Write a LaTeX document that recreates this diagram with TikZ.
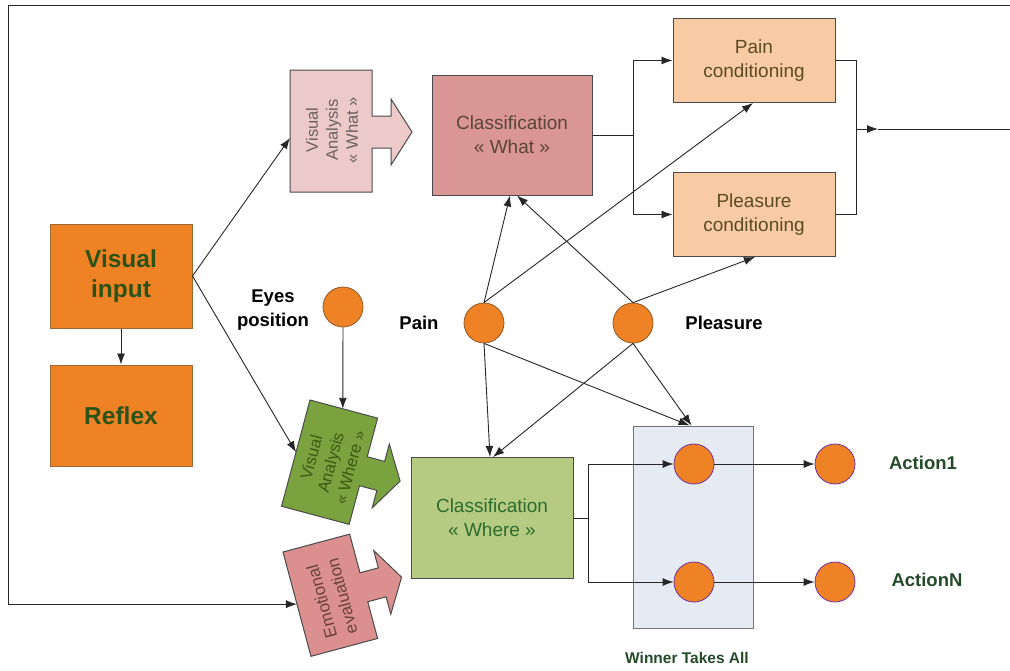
\documentclass[tikz,border=0pt]{standalone}
\usepackage{fontspec}
\setmainfont{Liberation Sans}
\usetikzlibrary{arrows.meta}
\definecolor{orng}{HTML}{F08226}
\definecolor{orngb}{HTML}{9C6A30}
\definecolor{dgreen}{HTML}{2B5217}
\definecolor{vawhat}{HTML}{EDCACA}
\definecolor{cwhatc}{HTML}{D99694}
\definecolor{condc}{HTML}{F8CBA5}
\definecolor{vawhere}{HTML}{7AA33F}
\definecolor{cwherec}{HTML}{B5CB82}
\definecolor{emoc}{HTML}{DB8F8F}
\definecolor{wtac}{HTML}{E6EAF2}
\definecolor{purpb}{HTML}{7030A0}
\definecolor{brownb}{HTML}{8C5A28}
\definecolor{edgec}{HTML}{4A4A4A}
\definecolor{condtxt}{HTML}{5B4B23}
\definecolor{cwhattxt}{HTML}{5A4636}
\definecolor{cwheretxt}{HTML}{2E6B2E}
\definecolor{emotxt}{HTML}{6B4436}
\definecolor{vawhattxt}{HTML}{6B6060}
\definecolor{vawheretxt}{HTML}{3A5A12}
\definecolor{acttxt}{HTML}{254A2A}
\begin{document}
\begin{tikzpicture}[x=1pt,y=-1pt,
  every node/.style={inner sep=0pt, align=center},
  conn/.style={draw=black!85, line width=0.9pt},
  arr/.style={conn, -{Latex[length=11pt,width=8pt]}},
  obox/.style={draw=orngb, fill=orng, line width=1pt, text=dgreen,
    font=\fontsize{24.5}{30}\selectfont\bfseries},
  cbox/.style={draw=edgec, line width=1pt, font=\fontsize{19}{24}\selectfont},
  shapeline/.style={draw=edgec, line width=1pt},
  dot/.style={circle, minimum size=40pt, fill=orng, draw=brownb, line width=0.8pt},
  pdot/.style={circle, minimum size=40pt, fill=orng, draw=purpb, line width=0.8pt},
  lab/.style={font=\fontsize{18.5}{24}\selectfont\bfseries},
  glab/.style={font=\fontsize{18.5}{24}\selectfont\bfseries, text=acttxt},
]
\useasboundingbox (0,0) rectangle (1010,670);

% background box of winner takes all
\node[draw=black!55, fill=wtac, line width=1pt, minimum width=120pt, minimum height=202pt] (wtabox) at (693.5,527) {};
\node[font=\fontsize{15.5}{18}\selectfont\bfseries, text=acttxt] (wtalab) at (687,658) {Winner Takes All};

% main boxes
\node[obox, minimum width=142pt, minimum height=104pt] (vin) at (121,276) {Visual\\input};
\node[obox, minimum width=142pt, minimum height=101pt] (reflex) at (121,415.5) {Reflex};

\node[cbox, fill=cwhatc, text=cwhattxt, minimum width=160pt, minimum height=120pt] (cwhat) at (512,135) {Classification\\« What »};
\node[cbox, fill=condc, text=condtxt, minimum width=162pt, minimum height=84pt] (paincond) at (754,60.5) {Pain\\conditioning};
\node[cbox, fill=condc, text=condtxt, minimum width=162pt, minimum height=84pt] (plcond) at (754,214.5) {Pleasure\\conditioning};
\node[cbox, fill=cwherec, text=cwheretxt, minimum width=162pt, minimum height=121pt] (cwhere) at (492,518) {Classification\\« Where »};

% visual analysis what (arrow shape)
\begin{scope}[shift={(290,70)}]
  \path[shapeline, fill=vawhat] (0,0) -- (82,0) -- (82,46) -- (101,46) -- (101,29) -- (122,62) -- (101,95) -- (101,78) -- (82,78) -- (82,122) -- (0,122) -- cycle;
  \node[rotate=90, text=vawhattxt, font=\fontsize{16.5}{20}\selectfont] (vawhatt) at (42,60) {Visual\\Analysis\\« What »};
  \coordinate (whatL) at (0,68);
\end{scope}

% visual analysis where (arrow shape, tilted)
\begin{scope}[shift={(310,400)}, rotate=-15]
  \path[shapeline, fill=vawhere] (0,0) -- (70,0) -- (70,40) -- (88,40) -- (88,22) -- (108,55) -- (88,88) -- (88,70) -- (70,70) -- (70,110) -- (0,110) -- cycle;
  \node[rotate=75, text=vawheretxt, font=\fontsize{16.5}{20}\selectfont] (vawheret) at (36,55) {Visual\\Analysis\\« Where »};
  \coordinate (whereL) at (0,54);
  \coordinate (whereT) at (34,0);
\end{scope}

% emotional evaluation (arrow shape, tilted)
\begin{scope}[shift={(283,552)}, rotate=15]
  \path[shapeline, fill=emoc] (0,0) -- (69,0) -- (69,40) -- (88,40) -- (88,22) -- (108,55) -- (88,88) -- (88,70) -- (69,70) -- (69,108) -- (0,108) -- cycle;
  \node[rotate=105, text=emotxt, font=\fontsize{17}{21}\selectfont] (emot) at (35,58) {Emotional\\evaluation};
  \coordinate (emoL) at (0,54);
\end{scope}

% circles
\node[dot] (eyes) at (343,307) {};
\node[dot] (pain) at (484,323) {};
\node[dot] (pleas) at (633,323) {};
\node[pdot] (wta1) at (694,464) {};
\node[pdot] (wta2) at (694,582) {};
\node[pdot] (act1) at (835,464) {};
\node[pdot] (actN) at (835,582) {};

% labels
\node[lab] (eyeslab) at (273,310) {Eyes\\position};
\node[lab] (painlab) at (419,323) {Pain};
\node[lab] (pleaslab) at (724,323) {Pleasure};
\node[glab] (act1lab) at (923,463) {Action1};
\node[glab] (actNlab) at (927,580) {ActionN};

% connectors
\draw[arr] (vin) -- (reflex);
\draw[arr] (vin.east) -- (whatL);
\draw[arr] (vin.east) -- (whereL);
\draw[arr] (eyes) -- (whereT);

\coordinate (jC) at (633,135);
\draw[conn] (cwhat.east) -- (jC);
\draw[arr] (jC) |- (paincond.west);
\draw[arr] (jC) |- (plcond.west);

\coordinate (jO) at (856,129);
\coordinate (outtip) at (878,129);
\draw[conn] (paincond.east) -| (jO);
\draw[conn] (plcond.east) -| (jO);
\draw[arr] (jO) -- (outtip);
\draw[arr] (outtip) -- (1020,129) -- (1020,5) -- (8,5) |- (emoL);

\draw[arr] (pain.north) -- ([xshift=-2pt]cwhat.south);
\draw[arr] (pleas.north) -- ([xshift=5pt]cwhat.south);
\draw[arr] (pain.north) -- ([xshift=-1pt]paincond.south);
\draw[arr] (pleas.north) -- ([xshift=1pt]plcond.south);
\draw[arr] (pain.south) -- ([xshift=-2pt]cwhere.north);
\draw[arr] (pleas.south) -- ([xshift=1pt]cwhere.north);
\draw[arr] (pain.south) -- ([xshift=-4pt]wtabox.north);
\draw[arr] (pleas.south) -- ([xshift=-2pt]wtabox.north);

\coordinate (jW) at (588,518);
\draw[conn] (cwhere.east) -- (jW);
\draw[arr] (jW) |- (wta1);
\draw[arr] (jW) |- (wta2);
\draw[arr] (wta1) -- (act1);
\draw[arr] (wta2) -- (actN);
\end{tikzpicture}
\end{document}
